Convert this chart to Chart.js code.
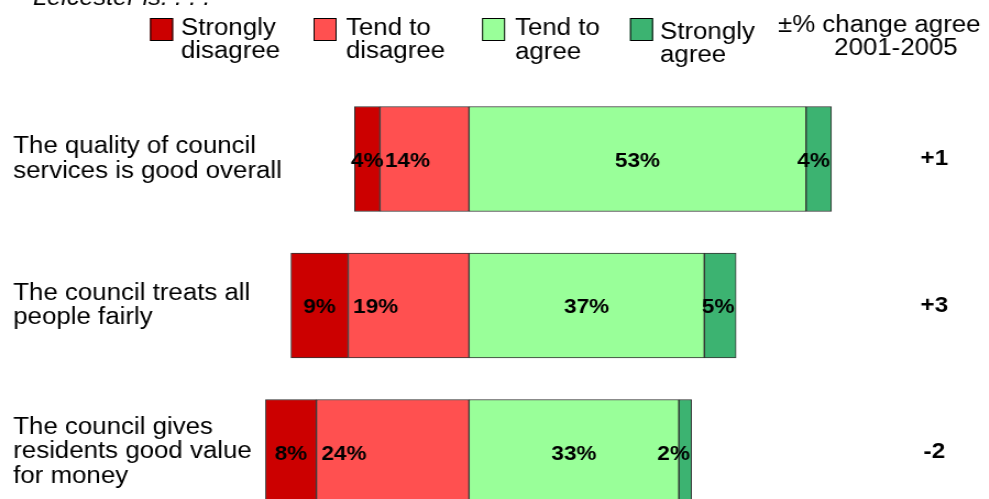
<!DOCTYPE html>
<html>
<head>
<meta charset="utf-8">
<script src="https://cdn.jsdelivr.net/npm/chart.js@4"></script>
<style>
  html, body { margin: 0; padding: 0; background: #fff; overflow: hidden; }
  /* the chart is laid out a bit narrower and widened back to full width */
  #chart { display: block; transform: scaleX(1.1); transform-origin: 0 0; }
</style>
</head>
<body>
<canvas id="chart" width="899" height="499"></canvas>
<script>
// ==================data=================

const questions = [
  ["The quality of council", "services is good overall"],
  ["The council treats all", "people fairly"],
  ["The council gives", "residents good value", "for money"],
];
const stronglyDisagree = [4, 9, 8];
const tendToDisagree = [14, 19, 24];
const tendToAgree = [53, 37, 33];
const stronglyAgree = [4, 5, 2];
const changeAgree = ["+1", "+3", "-2"];

const FONT = "'Liberation Sans', Arial, Helvetica, sans-serif";

Chart.defaults.font.family = FONT;
Chart.defaults.color = "#000";

// ==================plugins=================

// percentage written inside each segment
const barLabels = {
  id: "barLabels",
  afterDatasetsDraw(chart) {
    const c = chart.ctx;
    c.save();
    c.font = "bold 20.5px " + FONT;
    c.fillStyle = "#000";
    c.textBaseline = "middle";
    chart.data.datasets.forEach((ds, i) => {
      chart.getDatasetMeta(i).data.forEach((bar, j) => {
        const { x, base, y } = bar.getProps(["x", "base", "y"], true);
        const left = Math.min(x, base);
        const right = Math.max(x, base);
        const text = Math.abs(ds.data[j]) + "%";
        if (ds.labelAlign === "start") {
          c.textAlign = "left";
          c.fillText(text, left + 4.5, y + 2);
        } else if (ds.labelAlign === "end") {
          c.textAlign = "right";
          c.fillText(text, right - 1.5, y + 2);
        } else {
          c.textAlign = "center";
          c.fillText(text, (left + right) / 2, y + 2);
        }
      });
    });
    c.restore();
  },
};

// heading, key and the column header across the top
const legendSlots = [
  { box: 136.4, text: 164.5, lines: [35, 58] },
  { box: 285, text: 314.5, lines: [35, 58] },
  { box: 438.2, text: 468.2, lines: [35, 59] },
  { box: 572.7, text: 600, lines: [39, 62] },
];

const topText = {
  id: "topText",
  afterDraw(chart) {
    const c = chart.ctx;
    c.save();
    c.fillStyle = "#000";
    c.textBaseline = "alphabetic";

    c.font = "italic 23px " + FONT;
    c.textAlign = "left";
    c.fillText("Leicester is: . . .", 30, 5);

    c.font = "23.5px " + FONT;
    chart.data.datasets.forEach((ds) => {
      const slot = legendSlots[ds.legendIndex];
      c.fillStyle = ds.backgroundColor;
      c.fillRect(slot.box, 18, 20.9, 23);
      c.strokeStyle = "#000";
      c.lineWidth = 1;
      c.strokeRect(slot.box + 0.5, 18.5, 20, 22);
      c.fillStyle = "#000";
      c.textAlign = "left";
      ds.legendText.forEach((line, k) => c.fillText(line, slot.text, slot.lines[k]));
    });

    c.textAlign = "left";
    c.fillText("\u00B1% change agree", 707.3, 32);
    c.textAlign = "center";
    c.fillText("2001-2005", 814.5, 55);
    c.restore();
  },
};

// ==================chart=================

const ctx = document.getElementById("chart").getContext("2d");

new Chart(ctx, {
  type: "bar",
  data: {
    labels: questions,
    datasets: [
      {
        label: "Tend to disagree",
        legendText: ["Tend to", "disagree"],
        legendIndex: 1,
        labelAlign: "start",
        data: tendToDisagree.map((v) => -v),
        backgroundColor: "#FF5050",
      },
      {
        label: "Strongly disagree",
        legendText: ["Strongly", "disagree"],
        legendIndex: 0,
        labelAlign: "center",
        data: stronglyDisagree.map((v) => -v),
        backgroundColor: "#CC0000",
      },
      {
        label: "Tend to agree",
        legendText: ["Tend to", "agree"],
        legendIndex: 2,
        labelAlign: "center",
        data: tendToAgree,
        backgroundColor: "#99FF99",
      },
      {
        label: "Strongly agree",
        legendText: ["Strongly", "agree"],
        legendIndex: 3,
        labelAlign: "end",
        data: stronglyAgree,
        backgroundColor: "#3CB371",
      },
    ],
  },
  options: {
    indexAxis: "y",
    responsive: false,
    animation: false,
    layout: { padding: { left: 12, right: 0, top: 159, bottom: 47 } },
    datasets: {
      bar: {
        barThickness: 105,
        borderWidth: 1,
        borderColor: "#333",
        borderSkipped: false,
        clip: false,
      },
    },
    plugins: {
      legend: { display: false },
      tooltip: { enabled: false },
    },
    scales: {
      // zero sits a fixed distance in; the disagree side may run past the left edge
      x: { stacked: true, min: -29.3, max: 71, display: false },
      y: {
        stacked: true,
        offset: false,
        grid: { display: false, drawTicks: false },
        border: { display: false },
        ticks: {
          crossAlign: "far",
          padding: 0,
          font: { size: 23.5, lineHeight: 1.05 },
        },
        afterFit(scale) {
          scale.width = 245;
        },
      },
      y2: {
        type: "category",
        position: "right",
        offset: false,
        grid: { display: false, drawTicks: false },
        border: { display: false },
        ticks: {
          crossAlign: "center",
          padding: 0,
          font: { size: 22, weight: "bold" },
          callback: (value, index) => changeAgree[index],
        },
        afterFit(scale) {
          scale.width = 62.2;
        },
      },
    },
  },
  plugins: [barLabels, topText],
});
</script>
</body>
</html>
